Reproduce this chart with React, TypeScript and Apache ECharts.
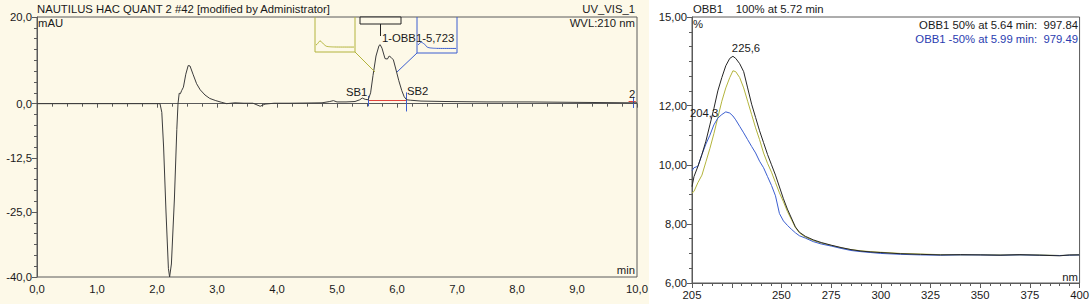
import React, { useEffect, useRef } from "react";
import * as echarts from "echarts";

// ---------- Chromatogram (left) ----------
const chromTimes = [
  0, 2.0, 2.05, 2.08, 2.11, 2.15, 2.19, 2.21, 2.24, 2.29, 2.33, 2.35, 2.37, 2.39, 2.41, 2.44, 2.48, 2.52, 2.55,
  2.6, 2.66, 2.72, 2.8, 2.88, 2.98, 3.08, 3.16, 3.3, 3.45, 3.6, 3.72, 3.8, 3.95, 4.2, 4.5, 4.75, 4.88, 4.94,
  5.0, 5.15, 5.3, 5.38, 5.42, 5.47, 5.52, 5.56, 5.6, 5.65, 5.7, 5.72, 5.75, 5.8, 5.84, 5.87, 5.9, 5.94, 5.98,
  6.03, 6.08, 6.12, 6.16, 6.22, 6.4, 6.8, 7.5, 8.2, 9.0, 9.9, 10.0,
];
const chromValues = [
  0, 0, 0, -2, -10, -25, -38, -40, -37, -22, -6, 0, 2.4, 2.3, 3.0, 3.8, 6.8, 8.8, 8.7,
  6.8, 4.6, 3.2, 2.0, 1.2, 0.7, 0.3, 0.0, 0.2, 0.1, 0.1, -0.6, -0.1, 0.1, 0.1, 0.15, 0.2, 0.5, 0.7,
  0.4, 0.4, 0.5, 0.9, 1.3, 1.0, 0.9, 2.5, 6.5, 11.0, 13.4, 13.6, 12.8, 10.4, 10.3, 11.0, 10.7, 10.1, 8.0,
  5.3, 3.0, 1.6, 0.9, 0.8, 0.6, 0.5, 0.4, 0.4, 0.3, 0.2, 0.2,
];
const chromXLabels = [0, 1, 2, 3, 4, 5, 6, 7, 8, 9, 10];
const chromYLabels = [20, 0, -12.5, -25, -40];
const peakStart = 5.52;
const peakEnd = 6.16;
const peakBase = 0.9;
const cursorTime = 9.93;

// ---------- UV spectra (right) ----------
const specNm = [
  205, 206, 208, 210, 212, 214, 216, 218, 220, 222, 224, 225.6, 227, 229, 231, 233, 235, 237, 239, 241, 243,
  245, 247, 249, 251, 253, 255, 257, 259, 262, 266, 270, 275, 280, 285, 290, 295, 300, 310, 320, 330, 340,
  350, 360, 370, 380, 390, 395, 400,
];
const spec100 = [
  9.26, 9.6, 9.95, 10.35, 10.8, 11.35, 11.9, 12.5, 12.95, 13.35, 13.6, 13.67, 13.6, 13.42, 13.15, 12.6, 12.05,
  11.6, 11.15, 10.75, 10.35, 10.0, 9.65, 9.25, 8.85, 8.5, 8.2, 7.9, 7.72, 7.58, 7.46, 7.37, 7.28, 7.2, 7.13,
  7.08, 7.05, 7.03, 6.99, 6.97, 6.95, 6.96, 6.95, 6.94, 6.96, 6.94, 6.92, 6.95, 6.95,
];
const spec50 = [
  9.04, 9.1, 9.4, 9.65, 10.1, 10.55, 11.05, 11.6, 12.15, 12.6, 12.95, 13.18, 13.15, 12.95, 12.6, 12.15, 11.7,
  11.25, 10.85, 10.4, 10.05, 9.75, 9.4, 9.05, 8.75, 8.42, 8.15, 7.88, 7.7, 7.55, 7.44, 7.35, 7.27, 7.19, 7.13,
  7.09, 7.06, 7.04, 7.0, 6.98, 6.96, 6.95, 6.96, 6.95, 6.95, 6.95, 6.93, 6.94, 6.96,
];
const specMinus50 = [
  9.8, 9.9, 9.95, 10.35, 10.7, 11.0, 11.35, 11.58, 11.7, 11.79, 11.75, 11.65, 11.52, 11.3, 11.08, 10.85,
  10.62, 10.4, 10.12, 9.9, 9.6, 9.3, 8.95, 8.35, 8.1, 7.95, 7.82, 7.7, 7.6, 7.52, 7.4, 7.32, 7.25, 7.17, 7.1,
  7.06, 7.03, 7.0, 6.97, 6.95, 6.94, 6.95, 6.95, 6.94, 6.95, 6.94, 6.93, 6.94, 6.95,
];
const specXMajor = [205, 225, 250, 275, 300, 325, 350, 375, 400];
const specXLabels = [205, 250, 275, 300, 325, 350, 375, 400];
const specYLabels = [6, 8, 10, 12, 15];

const FONT = "Liberation Sans";
const AXIS = "#5a5a5a";
const TXT = "#1a1a1a";
const YEL = "#b3b43c";
const BLU = "#3c5fd0";
const RED = "#e0443c";

const comma = (v: number, d: number) => v.toFixed(d).replace(".", ",");
const zip = (a: number[], b: number[]) => a.map((x, i) => [x, b[i]]);

function txt(x: number, y: number, text: string, extra: any = {}) {
  return {
    type: "text",
    x,
    y,
    style: { text, fill: TXT, font: `11.3px "${FONT}"`, textVerticalAlign: "middle", ...extra },
    z: 50,
  };
}

export default function App() {
  const ref = useRef<HTMLDivElement>(null);
  useEffect(() => {
    const chart = echarts.init(ref.current!, null, { renderer: "svg" });
    const lbl = { color: TXT, fontFamily: FONT, fontSize: 11.3 };
    const hiddenAxis = { show: false };
    const option: any = {
      animation: false,
      backgroundColor: "#ffffff",
      grid: [
        { left: 37, top: 17, width: 600, height: 260, show: true, borderColor: AXIS, borderWidth: 1, backgroundColor: "transparent" },
        { left: 692, top: 17, width: 389, height: 266, show: true, borderColor: AXIS, borderWidth: 1, backgroundColor: "transparent" },
        { left: 316, top: 40, width: 38, height: 8 },
        { left: 418, top: 42, width: 38, height: 7 },
      ],
      xAxis: [
        {
          gridIndex: 0, type: "value", min: 0, max: 10, interval: 1,
          axisLine: { lineStyle: { color: AXIS } },
          axisTick: { show: true, length: 4, lineStyle: { color: AXIS } },
          minorTick: { show: true, splitNumber: 4, length: 3, lineStyle: { color: AXIS } },
          splitLine: { show: false },
          axisLabel: { ...lbl, margin: 6, formatter: (v: number) => comma(v, 1), customValues: chromXLabels },
        },
        {
          gridIndex: 1, type: "value", min: 205, max: 400, interval: 5,
          axisLine: { lineStyle: { color: AXIS } },
          axisTick: { show: true, length: 3, lineStyle: { color: AXIS } },
          splitLine: { show: false },
          axisLabel: { show: false },
        },
        {
          gridIndex: 1, type: "value", min: 205, max: 400, position: "bottom",
          axisLine: { show: false },
          axisTick: { show: true, length: 5, customValues: specXMajor, lineStyle: { color: AXIS } },
          splitLine: { show: false },
          axisLabel: { ...lbl, margin: 6, customValues: specXLabels, formatter: (v: number) => String(v) },
        },
        { gridIndex: 2, type: "value", min: 205, max: 400, ...hiddenAxis },
        { gridIndex: 3, type: "value", min: 205, max: 400, ...hiddenAxis },
      ],
      yAxis: [
        {
          gridIndex: 0, type: "value", min: -40, max: 20, interval: 2.5, position: "left",
          axisLine: { show: true, lineStyle: { color: AXIS } },
          axisTick: { show: true, length: 3, lineStyle: { color: AXIS } },
          splitLine: { show: false },
          axisLabel: { show: false },
        },
        {
          gridIndex: 0, type: "value", min: -40, max: 20, position: "left",
          axisLine: { show: false },
          axisTick: { show: true, length: 5, customValues: chromYLabels, lineStyle: { color: AXIS } },
          splitLine: { show: false },
          axisLabel: { ...lbl, margin: 5, customValues: chromYLabels, formatter: (v: number) => comma(v, 1) },
        },
        {
          gridIndex: 1, type: "value", min: 6, max: 15, interval: 0.5, position: "left",
          axisLine: { show: true, lineStyle: { color: AXIS } },
          axisTick: { show: true, length: 3, lineStyle: { color: AXIS } },
          splitLine: { show: false },
          axisLabel: { show: false },
        },
        {
          gridIndex: 1, type: "value", min: 6, max: 15, position: "left",
          axisLine: { show: false },
          axisTick: { show: true, length: 5, customValues: specYLabels, lineStyle: { color: AXIS } },
          splitLine: { show: false },
          axisLabel: { ...lbl, margin: 5, customValues: specYLabels, formatter: (v: number) => comma(v, 2) },
        },
        { gridIndex: 2, type: "value", min: 6, max: 14, ...hiddenAxis },
        { gridIndex: 3, type: "value", min: 6.5, max: 12, ...hiddenAxis },
      ],
      series: [
        {
          type: "line", xAxisIndex: 0, yAxisIndex: 0, data: zip(chromTimes, chromValues),
          symbol: "none", lineStyle: { color: "#3c3c3c", width: 1 }, z: 5,
          markLine: {
            silent: true, symbol: "none", label: { show: false },
            data: [
              [{ coord: [peakStart, peakBase], lineStyle: { color: RED, width: 1.2, type: "solid" } }, { coord: [peakEnd, peakBase] }],
              [{ coord: [peakStart, -0.6], lineStyle: { color: BLU, width: 1, type: "solid" } }, { coord: [peakStart, 1.8] }],
              [{ coord: [peakEnd, -1.8], lineStyle: { color: BLU, width: 1, type: "solid" } }, { coord: [peakEnd, 2.6] }],
              [{ coord: [cursorTime - 0.07, 0.6], lineStyle: { color: RED, width: 1, type: "solid" } }, { coord: [cursorTime + 0.05, 0.6] }],
              [{ coord: [cursorTime, -1.0], lineStyle: { color: BLU, width: 1, type: "solid" } }, { coord: [cursorTime, 1.6] }],
            ],
          },
        },
        { type: "line", xAxisIndex: 1, yAxisIndex: 2, data: zip(specNm, spec50), symbol: "none", lineStyle: { color: YEL, width: 1 }, z: 3 },
        { type: "line", xAxisIndex: 1, yAxisIndex: 2, data: zip(specNm, specMinus50), symbol: "none", lineStyle: { color: BLU, width: 1 }, z: 3 },
        { type: "line", xAxisIndex: 1, yAxisIndex: 2, data: zip(specNm, spec100), symbol: "none", lineStyle: { color: "#262626", width: 1 }, z: 4 },
        { type: "line", xAxisIndex: 3, yAxisIndex: 4, data: zip(specNm, spec50), symbol: "none", lineStyle: { color: YEL, width: 1 }, z: 6 },
        { type: "line", xAxisIndex: 4, yAxisIndex: 5, data: zip(specNm, specMinus50), symbol: "none", lineStyle: { color: BLU, width: 1 }, z: 6 },
      ],
      graphic: [
        { type: "rect", shape: { x: 0, y: 0, width: 649, height: 304 }, style: { fill: "#fdf9e8" }, z: -10, silent: true },
        // inset frames and connectors
        { type: "polyline", shape: { points: [[315, 17], [315, 52], [355, 52], [355, 17]] }, style: { stroke: YEL, fill: null, lineWidth: 1 }, z: 20 },
        { type: "line", shape: { x1: 355, y1: 52, x2: 375, y2: 72 }, style: { stroke: YEL, lineWidth: 1 }, z: 20 },
        { type: "polyline", shape: { points: [[417, 17], [417, 53], [457, 53], [457, 17]] }, style: { stroke: BLU, fill: null, lineWidth: 1 }, z: 20 },
        { type: "line", shape: { x1: 417, y1: 53, x2: 397, y2: 72 }, style: { stroke: BLU, lineWidth: 1 }, z: 20 },
        { type: "rect", shape: { x: 360, y: 17, width: 41, height: 7 }, style: { stroke: "#222", fill: "#fdf9e8", lineWidth: 1 }, z: 20 },
        { type: "line", shape: { x1: 380.5, y1: 24, x2: 380.5, y2: 36 }, style: { stroke: "#222", lineWidth: 1 }, z: 20 },
        // left texts
        txt(37, 9, "NAUTILUS HAC QUANT 2 #42 [modified by Administrator]"),
        txt(38, 23, "mAU"),
        txt(635, 9, "UV_VIS_1", { textAlign: "right" }),
        txt(635, 23, "WVL:210 nm", { textAlign: "right" }),
        txt(635, 270, "min", { textAlign: "right" }),
        txt(346, 92, "SB1"),
        txt(407, 91, "SB2"),
        txt(382, 38, "1-OBB1-5,723"),
        txt(629, 94, "2"),
        // right texts
        txt(693, 9, "OBB1    100% at 5.72 min"),
        txt(693, 24, "%"),
        txt(1078, 25, "OBB1 50% at 5.64 min:  997.84", { textAlign: "right" }),
        txt(1078, 39, "OBB1 -50% at 5.99 min:  979.49", { textAlign: "right", fill: "#2a3cb0" }),
        txt(1078, 277, "nm", { textAlign: "right" }),
        txt(746, 48, "225,6", { textAlign: "center" }),
        txt(690, 113, "204,3"),
      ],
    };
    chart.setOption(option);
    return () => chart.dispose();
  }, []);
  return (
    <div
      ref={ref}
      style={{ position: "fixed", left: 0, top: 0, width: 1092, height: 304 }}
    />
  );
}
